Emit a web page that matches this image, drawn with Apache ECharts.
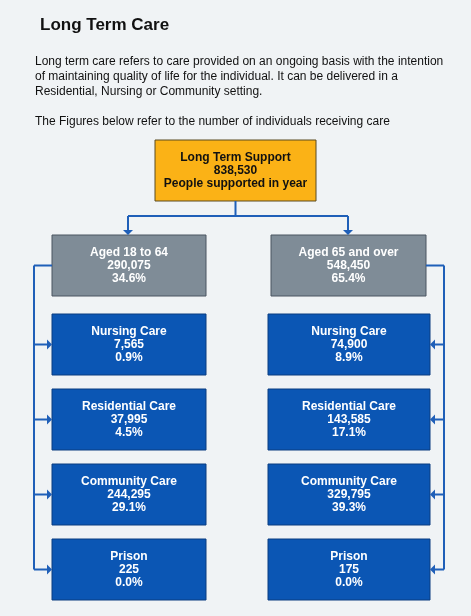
<!DOCTYPE html>
<html><head><meta charset="utf-8">
<script src="https://cdn.jsdelivr.net/npm/echarts@6/dist/echarts.min.js"></script>
<style>html,body{margin:0;padding:0;background:#f0f3f5}#c{width:471px;height:616px}</style>
</head><body><div id="c"></div>
<script>
const titles = ['Long Term Support','Aged 18 to 64','Aged 65 and over','Nursing Care','Residential Care','Community Care','Prison','Nursing Care','Residential Care','Community Care','Prison'];
const values = ['838,530','290,075','548,450','7,565','37,995','244,295','225','74,900','143,585','329,795','175'];
const thirdLines = ['People supported in year','34.6%','65.4%','0.9%','4.5%','29.1%','0.0%','8.9%','17.1%','39.3%','0.0%'];
const kinds = ['root','age','age','svc','svc','svc','svc','svc','svc','svc','svc'];
const side = [0,-1,1,-1,-1,-1,-1,1,1,1,1];
const rowIdx = [0,1,1,2,3,4,5,2,3,4,5];

// layout
const boxes = titles.map((t,i)=>{
  let x,w,y,h=61;
  if(kinds[i]==='root'){x=155;w=161;y=140;}
  else{
    if(side[i]<0){x=52;w=154;} else {x= kinds[i]==='age'?271:268; w= kinds[i]==='age'?155:162;}
    y = rowIdx[i]===1?235:314+(rowIdx[i]-2)*75;
  }
  return {x,y,w,h,i};
});
const colors={root:'#fbb216',age:'#7f8c97',svc:'#0b56b4'};
const borders={root:'#5a4a20',age:'#4a5560',svc:'#0a3c80'};
const chart = echarts.init(document.getElementById('c'));
const lineC='#1f5fb8';
function arrow(x,y,dir){ // tip at x,y
  const s=5;
  let pts = dir==='down'?[[x-s,y-s],[x+s,y-s],[x,y]]:dir==='right'?[[x-s,y-s],[x-s,y+s],[x,y]]:[[x+s,y-s],[x+s,y+s],[x,y]];
  return {type:'polygon',shape:{points:pts},style:{fill:lineC}};
}
chart.setOption({
  backgroundColor:'#f0f3f5',
  animation:false,
  grid:{left:0,right:0,top:0,bottom:0},
  xAxis:{type:'value',min:0,max:471,show:false},
  yAxis:{type:'value',min:0,max:616,inverse:true,show:false},
  title:{text:'Long Term Care',left:35,top:12,textStyle:{fontFamily:'Liberation Sans, Arial',fontSize:17,fontWeight:'bold',color:'#111'}},
  graphic:[{type:'text',left:35,top:54,style:{fontFamily:'Liberation Sans, Arial',fontSize:12,lineHeight:15,fill:'#111',
    text:'Long term care refers to care provided on an ongoing basis with the intention\nof maintaining quality of life for the individual. It can be delivered in a\nResidential, Nursing or Community setting.\n\nThe Figures below refer to the number of individuals receiving care'}}],
  series:[{
    type:'custom',
    data:boxes.map(b=>[b.x,b.y,b.w,b.h,b.i]),
    renderItem:(params,api)=>{
      const i=api.value(4);
      const p=api.coord([api.value(0),api.value(1)]);
      const q=api.coord([api.value(0)+api.value(2),api.value(1)+api.value(3)]);
      const k=kinds[i];
      const children=[
        {type:'rect',shape:{x:p[0],y:p[1],width:q[0]-p[0],height:q[1]-p[1]},style:{fill:colors[k],stroke:borders[k],lineWidth:1}},
        {type:'text',style:{x:(p[0]+q[0])/2,y:(p[1]+q[1])/2,text:titles[i]+'\n'+values[i]+'\n'+thirdLines[i],align:'center',verticalAlign:'middle',
          fontFamily:'Liberation Sans, Arial',fontSize:12,fontWeight:'bold',lineHeight:13,fill:k==='root'?'#111':'#fff'}}
      ];
      return {type:'group',children};
    }
  },{
    type:'custom',
    data:[[0]],
    renderItem:(params,api)=>{
      const c=(x,y)=>api.coord([x,y]);
      const L=(a,b)=>({type:'polyline',shape:{points:[c(...a),c(...b)]},style:{stroke:lineC,lineWidth:2}});
      const ch=[];
      const root=boxes[0], la=boxes[1], ra=boxes[2];
      const rx=root.x+root.w/2, midY=216;
      const lx=la.x+la.w/2+52-52-53, rxx=ra.x+ra.w/2-1;
      const lcx=128, rcx=348;
      ch.push(L([rx,root.y+root.h],[rx,midY]),L([lcx,midY],[rcx,midY]),L([lcx,midY],[lcx,la.y-3]),L([rcx,midY],[rcx,ra.y-3]));
      let t=c(lcx,la.y); ch.push(arrow(t[0],t[1],'down')); t=c(rcx,ra.y); ch.push(arrow(t[0],t[1],'down'));
      const lv=34, rv=444;
      const lastL=boxes[6], lastR=boxes[10];
      ch.push(L([la.x,la.y+la.h/2],[lv,la.y+la.h/2]),L([lv,la.y+la.h/2],[lv,lastL.y+lastL.h/2]));
      ch.push(L([ra.x+ra.w,ra.y+ra.h/2],[rv,ra.y+ra.h/2]),L([rv,ra.y+ra.h/2],[rv,lastR.y+lastR.h/2]));
      boxes.forEach(b=>{
        if(kinds[b.i]!=='svc')return;
        const ym=b.y+b.h/2;
        if(side[b.i]<0){ch.push(L([lv,ym],[b.x-3,ym]));const a=c(b.x,ym);ch.push(arrow(a[0],a[1],'right'));}
        else{ch.push(L([rv,ym],[b.x+b.w+3,ym]));const a=c(b.x+b.w,ym);ch.push(arrow(a[0],a[1],'left'));}
      });
      return {type:'group',children:ch};
    }
  }]
});
</script></body></html>
